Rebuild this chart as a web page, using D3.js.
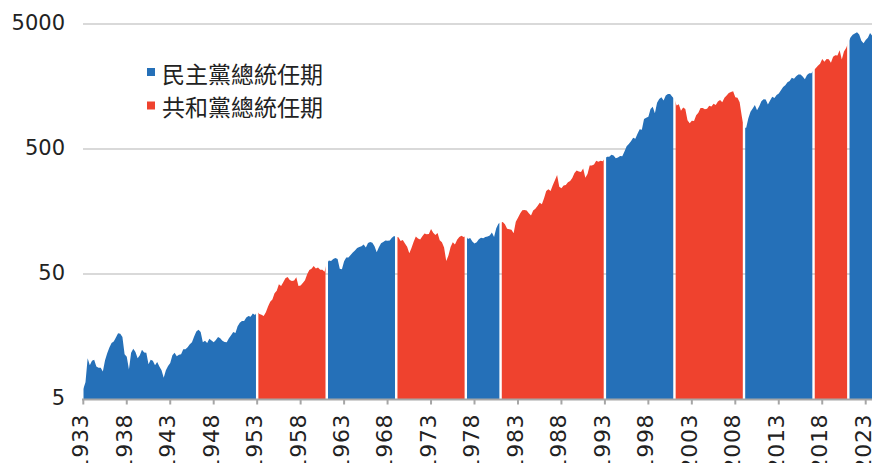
<!DOCTYPE html>
<html><head><meta charset="utf-8">
<script src="https://cdn.jsdelivr.net/npm/d3@7"></script>
<style>body{margin:0;background:#fff;overflow:hidden}</style>
</head><body><svg id="chart" width="872" height="463"></svg>
<script>
// Quarterly index values (Jan, Apr, Jul, Oct) starting 1933.0, last point 2024.0
const startYear = 1933;
const stepYears = 0.25;
const indexValues = [
 6.0, 6.8, 10.6, 9.3,
 10.1, 10.3, 9.1, 8.9,
 8.9, 8.3, 10.2, 11.6,
 12.9, 14.0, 14.4, 15.5,
 16.8, 16.6, 15.7, 11.4,
 10.9, 8.6, 11.7, 12.6,
 11.9, 10.6, 11.2, 12.4,
 11.8, 11.7, 9.5, 10.3,
 10.1, 9.3, 9.9, 9.1,
 8.5, 7.4, 8.5, 9.2,
 9.7, 11.2, 11.7, 11.0,
 11.3, 11.4, 12.5, 12.5,
 13.0, 13.7, 14.2, 15.8,
 17.3, 17.9, 17.2, 14.2,
 14.6, 14.0, 15.2, 14.7,
 14.2, 14.8, 15.7, 15.3,
 14.6, 14.3, 14.2, 15.3,
 16.2, 17.2, 16.9, 19.1,
 20.4, 21.0, 21.0, 22.4,
 23.1, 22.7, 24.1, 23.5,
 25.0, 23.9, 23.6, 23.1,
 24.7, 27.5, 30.0, 31.2,
 35.0, 36.8, 41.4, 40.0,
 42.9, 46.2, 47.3, 44.8,
 44.0, 44.3, 47.0, 40.0,
 40.4, 42.4, 44.6, 49.8,
 53.9, 55.2, 57.9, 55.3,
 56.3, 54.0, 54.1, 52.1,
 61.0, 64.0, 63.4, 66.0,
 67.0, 66.0, 55.0, 54.5,
 63.1, 67.7, 67.9, 70.8,
 74.2, 77.1, 80.7, 82.4,
 83.5, 86.2, 81.6, 88.7,
 90.1, 88.9, 83.2, 74.8,
 82.0, 88.2, 90.2, 92.8,
 92.2, 92.8, 97.3, 100.7,
 98.9, 98.3, 91.9, 93.5,
 87.6, 82.5, 73.3, 80.7,
 90.7, 99.9, 96.0, 94.4,
 100.2, 105.5, 104.0, 104.5,
 114.8, 107.0, 102.6, 106.5,
 93.2, 89.7, 81.3, 63.6,
 70.4, 82.2, 89.7, 86.0,
 94.0, 98.8, 101.0, 98.8,
 100.7, 95.4, 97.0, 90.9,
 87.6, 89.9, 94.8, 97.6,
 96.7, 99.0, 99.6, 101.4,
 107.6, 99.0, 116.2, 126.3,
 129.0, 130.4, 125.2, 115.2,
 113.8, 112.9, 106.1, 131.2,
 141.0, 152.7, 162.0, 162.7,
 161.4, 152.9, 146.6, 161.1,
 166.5, 175.2, 186.1, 180.6,
 202.0, 230.6, 237.7, 230.3,
 257.0, 280.6, 310.0, 250.0,
 243.0, 254.7, 258.0, 270.6,
 276.8, 293.2, 322.0, 337.0,
 329.8, 328.0, 349.2, 294.9,
 315.7, 368.6, 369.5, 375.6,
 403.6, 395.2, 402.6, 399.4,
 422.0, 432.8, 433.9, 450.0,
 444, 421, 427, 440,
 437, 477, 525, 548,
 577, 615, 605, 663,
 721, 714, 870, 890,
 905, 1045, 1087, 968,
 1173, 1255, 1298, 1222,
 1340, 1374, 1376, 1312,
 1255, 1114, 1138, 1011,
 1072, 1045, 849, 804,
 841, 839, 933, 976,
 1064, 1064, 1039, 1051,
 1111, 1094, 1149, 1127,
 1201, 1231, 1184, 1284,
 1339, 1404, 1427, 1448,
 1297, 1288, 1182, 910,
 740, 740, 880, 995,
 1056, 1125, 1019, 1100,
 1205, 1252, 1245, 1135,
 1222, 1307, 1278, 1354,
 1391, 1476, 1570, 1617,
 1711, 1753, 1855, 1821,
 1908, 1969, 1969, 1904,
 1803, 1950, 2019, 2014,
 2139, 2218, 2322, 2402,
 2623, 2495, 2626, 2618,
 2451, 2730, 2817, 2798,
 3081, 2596, 3015, 3213,
 3566, 3893, 4102, 4192,
 4299, 4128, 3676, 3502,
 3722, 3873, 4239, 4014,
 4500
];

// Presidential terms
const termStarts  = [1933, 1953, 1961, 1969, 1977, 1981, 1993, 2001, 2009, 2017, 2021];
const termParties = ["D", "R", "D", "R", "D", "R", "D", "R", "D", "R", "D"];
const dataEnd = 2024;

const legendParties = ["D", "R"];
const legendLabels  = ["民主黨總統任期", "共和黨總統任期"];
const partyColors   = {D: "#2570b8", R: "#ef422e"};

const yTickValues = [5, 50, 500, 5000];
const xTickYears  = d3.range(1933, 2024, 5);

// ---------- drawing ----------
const svg = d3.select("#chart");
const x = d3.scaleLinear().domain([1933, 2024]).range([83.3, 874.4]);
const y = d3.scaleLog().domain([5, 5000]).range([399, 24]);

const points = indexValues.map((v, i) => ({t: startYear + i * stepYears, v}));

// gridlines
svg.append("g").selectAll("line")
  .data(yTickValues.filter(v => v > 5))
  .join("line")
  .attr("x1", 83).attr("x2", 872)
  .attr("y1", d => y(d)).attr("y2", d => y(d))
  .attr("stroke", "#d9d9d9").attr("stroke-width", 2);

// areas per term
const defs = svg.append("defs");
const area = d3.area().x(d => x(d.t)).y0(y(5)).y1(d => y(d.v));
const gAreas = svg.append("g");
termStarts.forEach((s, i) => {
  const e = i < termStarts.length - 1 ? termStarts[i + 1] : dataEnd;
  const pts = points.filter(p => p.t >= s - 1e-9 && p.t <= e + 1e-9);
  const x0 = i === 0 ? x(s) : x(s) + 1.2;
  const x1 = i === termStarts.length - 1 ? x(e) : x(e) - 1.2;
  defs.append("clipPath").attr("id", "clip" + i)
    .append("rect").attr("x", x0).attr("y", 0).attr("width", x1 - x0).attr("height", 463);
  gAreas.append("path")
    .attr("d", area(pts))
    .attr("fill", partyColors[termParties[i]])
    .attr("clip-path", `url(#clip${i})`);
});

// x axis line and ticks
svg.append("line").attr("x1", 82).attr("x2", 872).attr("y1", 399.5).attr("y2", 399.5)
  .attr("stroke", "#a6a6a6").attr("stroke-width", 2);
svg.append("g").selectAll("line").data(xTickYears).join("line")
  .attr("x1", d => x(d)).attr("x2", d => x(d)).attr("y1", 399).attr("y2", 404.5)
  .attr("stroke", "#a6a6a6").attr("stroke-width", 2);

// x labels (rotated; the reference shows them running past the bottom edge)
svg.append("g").selectAll("text").data(xTickYears).join("text")
  .attr("transform", d => `translate(${x(d) + 4.9},413.7) rotate(-90)`)
  .attr("text-anchor", "end")
  .attr("font-family", "'DejaVu Sans', sans-serif")
  .attr("font-size", 22)
  .attr("letter-spacing", "0.7px")
  .attr("fill", "#222")
  .text(d => d);

// y labels
svg.append("g").selectAll("text").data(yTickValues).join("text")
  .attr("x", 65).attr("y", d => y(d) + 6)
  .attr("text-anchor", "end")
  .attr("font-family", "'DejaVu Sans', sans-serif")
  .attr("font-size", 21)
  .attr("fill", "#222")
  .text(d => d);

// legend
const lg = svg.append("g");
legendParties.forEach((p, i) => {
  lg.append("rect").attr("x", 147).attr("y", 68 + i * 33.5).attr("width", 8).attr("height", 8)
    .attr("fill", partyColors[p]);
  lg.append("text").attr("x", 162).attr("y", 82.7 + i * 33.7)
    .attr("font-family", "'Noto Sans CJK TC', 'Noto Sans CJK SC', sans-serif")
    .attr("font-size", 23).attr("fill", "#222")
    .text(legendLabels[i]);
});
</script>
</body></html>
